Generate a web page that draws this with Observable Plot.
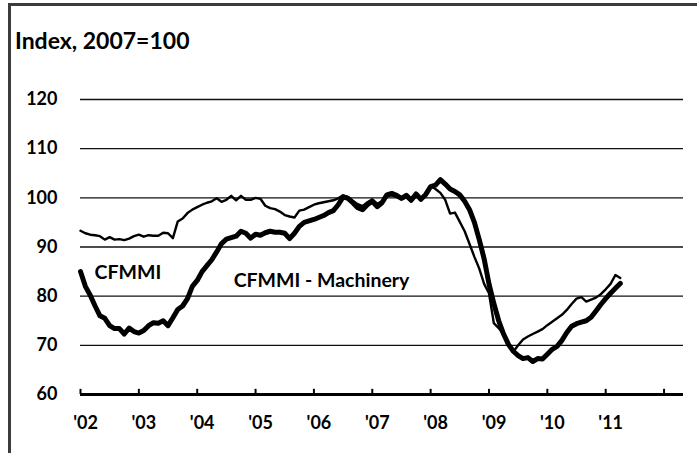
<!DOCTYPE html>
<html><head><meta charset="utf-8">
<script src="https://cdn.jsdelivr.net/npm/d3@7"></script>
<script src="https://cdn.jsdelivr.net/npm/@observablehq/plot@0.6"></script>
<style>
html,body{margin:0;padding:0;background:#fff;}
#wrap{position:relative;width:697px;height:453px;overflow:hidden;font-family:Lato, sans-serif;}
#frame{position:absolute;left:8px;top:3px;width:700px;height:460px;border-top:3px solid #3c3c3c;border-left:3px solid #3c3c3c;}
#title{position:absolute;left:15px;top:28.6px;font-family:Lato, sans-serif;font-weight:bold;font-size:23px;line-height:23px;white-space:nowrap;color:#000;}
#chart{position:absolute;left:0;top:0;}
</style></head><body>
<div id="wrap"><div id="chart"></div><div id="frame"></div><div id="title">Index, 2007=100</div></div>
<script>
// Monthly values, Jan 2002 – Apr 2011
const startYear = 2002;
const cfmmi = [
  93.3, 92.8, 92.5, 92.4, 92.2, 91.5, 92.0, 91.5, 91.6, 91.4, 91.7, 92.2,
  92.5, 92.1, 92.4, 92.3, 92.3, 92.9, 92.8, 91.8, 95.2, 95.8, 96.9, 97.6,
  98.1, 98.6, 99.0, 99.3, 99.9, 99.2, 99.6, 100.4, 99.5, 100.4, 99.6, 99.6,
  100.0, 99.8, 98.4, 97.9, 97.7, 97.2, 96.5, 96.2, 96.0, 97.4, 97.6, 98.1,
  98.6, 98.9, 99.1, 99.3, 99.5, 99.9, 100.5, 100.2, 99.4, 98.7, 98.3, 99.1,
  99.7, 98.8, 99.3, 100.3, 100.5, 100.2, 99.7, 100.1, 99.3, 100.4, 99.8, 100.5,
  102.4, 101.8, 101.0, 99.6, 96.8, 97.0, 95.1, 93.2, 90.6, 88.0, 85.6, 82.5,
  80.6, 74.5, 73.5, 72.2, 70.0, 68.7, 70.0, 71.2, 71.8, 72.3, 72.8, 73.3,
  74.1, 74.8, 75.5, 76.2, 77.2, 78.4, 79.5, 79.8, 78.9, 79.3, 79.7, 80.4,
  81.4, 82.5, 84.3, 83.7
];
const machinery = [
  85.0, 82.0, 80.2, 78.0, 76.0, 75.5, 74.0, 73.4, 73.4, 72.3, 73.5, 72.8,
  72.5, 73.0, 74.0, 74.6, 74.5, 75.0, 74.0, 75.6, 77.3, 78.0, 79.5, 82.0,
  83.2, 85.0, 86.2, 87.4, 89.0, 90.7, 91.6, 91.9, 92.2, 93.2, 92.8, 91.8,
  92.6, 92.4, 92.9, 93.2, 93.0, 93.0, 92.8, 91.7, 92.8, 94.2, 95.0, 95.3,
  95.6, 96.0, 96.4, 97.0, 97.4, 98.6, 100.2, 99.9, 99.0, 98.0, 97.6, 98.6,
  99.3, 98.2, 99.0, 100.6, 100.9, 100.5, 99.9, 100.5, 99.5, 100.8, 99.7, 100.7,
  102.3, 102.6, 103.7, 102.8, 101.8, 101.3, 100.6, 99.3, 97.6, 95.0, 91.5, 87.6,
  82.5, 78.5, 75.0, 72.3, 70.2, 68.8, 67.9, 67.3, 67.5, 66.7, 67.3, 67.2,
  68.2, 69.2, 69.8, 71.0, 72.6, 73.9, 74.4, 74.7, 75.0, 75.7, 77.0, 78.3,
  79.5, 80.6, 81.6, 82.6
];
const yearLabels = ["'02", "'03", "'04", "'05", "'06", "'07", "'08", "'09", "'10", "'11"];
const yTicks = [60, 70, 80, 90, 100, 110, 120];
const seriesLabelText = ["CFMMI", "CFMMI - Machinery"];
const seriesLabelMonth = [2.9, 31.5];
const seriesLabelValue = [84.7, 83.2];

const xEnd = 124; // months shown on the axis (through early 2012)
const yearTickMonths = d3.range(0, 11).map(k => k * 12);
const labelMonths = yearLabels.map((_, k) => k * 12);
const seriesLabels = seriesLabelText.map((t, i) => ({text: t, m: seriesLabelMonth[i], v: seriesLabelValue[i]}));

const chart = Plot.plot({
  width: 697,
  height: 453,
  marginLeft: 80,
  marginRight: 14,
  marginTop: 99,
  marginBottom: 59,
  x: {type: "linear", domain: [0, xEnd], axis: null, label: null},
  y: {domain: [60, 120], axis: null, label: null},
  style: {fontFamily: "Lato, sans-serif", fontWeight: "bold", background: "transparent", color: "#000"},
  marks: [
    Plot.ruleY(yTicks.filter(t => t > 60), {stroke: "#111", strokeWidth: 1.4}),
    Plot.axisY({ticks: yTicks, tickSize: 0, tickPadding: 23, fontSize: 18, label: null, tickFormat: d => String(d)}),
    Plot.axisX({ticks: labelMonths, tickSize: 0, tickPadding: 22, fontSize: 18, dx: 5, label: null, tickFormat: d => yearLabels[Math.round(d / 12)]}),
    Plot.ruleX(yearTickMonths, {y1: 60, y2: 61.05, stroke: "#000", strokeWidth: 2}),
    Plot.ruleY([60], {stroke: "#000", strokeWidth: 3}),
    Plot.line(cfmmi, {x: (d, i) => i, y: d => d, stroke: "#000", strokeWidth: 2.4, strokeLinejoin: "round", strokeLinecap: "round"}),
    Plot.line(machinery, {x: (d, i) => i, y: d => d, stroke: "#000", strokeWidth: 5, strokeLinejoin: "round", strokeLinecap: "round"}),
    Plot.text(seriesLabels, {x: "m", y: "v", text: "text", textAnchor: "start", fontSize: 19.5, fontWeight: "bold", fill: "#000"})
  ]
});
document.getElementById("chart").appendChild(chart);
</script>
</body></html>
